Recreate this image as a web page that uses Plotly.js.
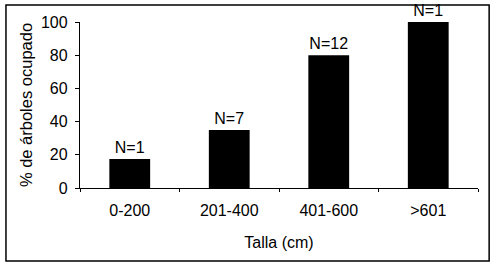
<!DOCTYPE html>
<html><head><meta charset="utf-8">
<script src="https://cdn.plot.ly/plotly-3.0.1.min.js"></script>
<style>html,body{margin:0;padding:0;background:#fff}#c{width:491px;height:264px}</style>
</head><body><div id="c"></div>
<script>
const categories = ["0-200", "201-400", "401-600", ">601"];
const values = [17.5, 35, 80, 100];
const labels = ["N=1", "N=7", "N=12", "N=1"];
const yTicks = [0, 20, 40, 60, 80, 100];

const F = "Liberation Sans, Arial, sans-serif";
Plotly.newPlot("c", [{
  type: "bar", x: categories, y: values, text: labels,
  textposition: "outside", cliponaxis: false,
  textfont: {family: F, size: 16, color: "#000"},
  marker: {color: "#000", line: {width: 0}},
  hoverinfo: "none"
}], {
  width: 491, height: 264,
  margin: {l: 80, r: 13, t: 22, b: 76},
  paper_bgcolor: "#fff", plot_bgcolor: "#fff",
  bargap: 0.59, showlegend: false,
  font: {family: F, size: 16, color: "#000"},
  xaxis: {
    showline: true, linecolor: "#000", linewidth: 1.2,
    ticks: "outside", tickson: "boundaries", ticklen: 3, tickcolor: "#000",
    tickfont: {family: F, size: 16}, showgrid: false, ticklabelstandoff: 8,
    title: {text: "Talla (cm)", font: {family: F, size: 16}, standoff: 18}
  },
  yaxis: {
    range: [0, 100], tickvals: yTicks, showline: true, linecolor: "#000", linewidth: 1.2,
    ticks: "outside", ticklen: 4, tickcolor: "#000", showgrid: false, zeroline: false,
    tickfont: {family: F, size: 16}, ticklabelstandoff: 4,
    title: {text: "% de árboles ocupado", font: {family: F, size: 16.5}, standoff: 4}
  },
  shapes: [{
    type: "rect", xref: "paper", yref: "paper",
    x0: -0.186, x1: 1.028, y0: -0.44, y1: 1.102,
    line: {color: "#000", width: 1.5}, fillcolor: "rgba(0,0,0,0)"
  }]
}, {staticPlot: true});
</script></body></html>
